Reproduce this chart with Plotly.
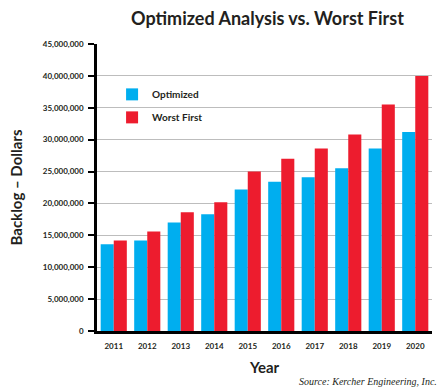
import plotly.graph_objects as go

years = ["2011", "2012", "2013", "2014", "2015", "2016", "2017", "2018", "2019", "2020"]
optimized = [13.6e6, 14.2e6, 17.0e6, 18.3e6, 22.2e6, 23.4e6, 24.1e6, 25.5e6, 28.6e6, 31.2e6]
worst_first = [14.2e6, 15.6e6, 18.6e6, 20.2e6, 25.0e6, 27.0e6, 28.6e6, 30.8e6, 35.5e6, 40.0e6]
y_ticks = [0, 5e6, 10e6, 15e6, 20e6, 25e6, 30e6, 35e6, 40e6, 45e6]
y_tick_text = ["0", "5,000,000", "10,000,000", "15,000,000", "20,000,000", "25,000,000",
               "30,000,000", "35,000,000", "40,000,000", "45,000,000"]

BLUE = "#00AEEF"
RED = "#ED1C2E"
TEXT = "#231F20"

fig = go.Figure()
fig.add_trace(go.Bar(x=years, y=optimized, name="Optimized", legendgroup="opt",
                     marker=dict(color=BLUE, line=dict(width=0))))
fig.add_trace(go.Bar(x=years, y=worst_first, name="Worst First", legendgroup="wf",
                     marker=dict(color=RED, line=dict(width=0))))

fig.update_layout(
    width=445, height=391,
    margin=dict(l=97, r=13, t=44, b=60),
    paper_bgcolor="white", plot_bgcolor="white",
    barmode="group", bargap=0.22, bargroupgap=0,
    showlegend=True,
    legend=dict(x=0.045, y=0.875, xanchor="left", yanchor="top",
                font=dict(family="Lato", size=10, color=TEXT, weight="bold"),
                bgcolor="rgba(0,0,0,0)", tracegroupgap=4, itemwidth=30),
    font=dict(family="Lato", color=TEXT),
)

fig.update_yaxes(
    range=[0, 45e6], tickvals=y_ticks, ticktext=y_tick_text,
    showgrid=True, gridcolor="#BDBDBD", gridwidth=1,
    showline=True, linecolor="black", linewidth=2.5,
    ticks="outside", ticklen=6, tickwidth=2, tickcolor="black",
    tickfont=dict(family="Lato", size=8, color=TEXT, weight="bold"),
    ticklabelstandoff=3,
    zeroline=False,
    title=dict(text="Backlog – Dollars", font=dict(family="Lato", size=15, color=TEXT, weight="bold"), standoff=17),
)
fig.update_xaxes(
    showline=True, linecolor="black", linewidth=2.5,
    ticks="", showgrid=False,
    tickfont=dict(family="Lato", size=8, color=TEXT, weight="bold"),
    ticklabelstandoff=6,
    title=dict(text="Year", font=dict(family="Lato", size=15, color=TEXT, weight="bold"), standoff=13),
)

fig.add_annotation(
    text="Optimized Analysis vs. Worst First", xref="paper", yref="paper",
    x=0.51, y=1, yshift=26, showarrow=False, xanchor="center", yanchor="middle",
    font=dict(family="Lato", size=18, color=TEXT, weight="bold"),
)
fig.add_annotation(
    text="<i>Source: Kercher Engineering, Inc.</i>", xref="paper", yref="paper",
    x=1.02, y=0, yshift=-50, showarrow=False, xanchor="right", yanchor="middle",
    font=dict(family="Liberation Serif", size=10, color=TEXT),
)

fig.write_html("out.html", config={"displayModeBar": False},
               post_script="document.body.style.margin='0';")
